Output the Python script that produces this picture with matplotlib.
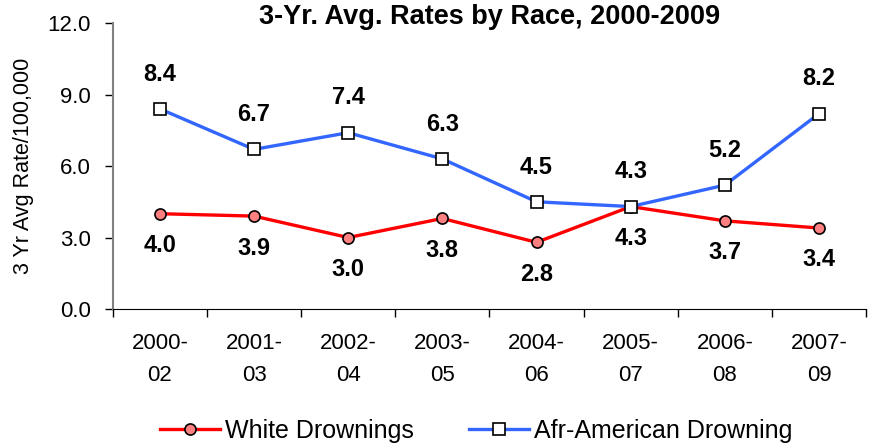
import numpy as np
import matplotlib
matplotlib.use("Agg")
import matplotlib.pyplot as plt

plt.rcParams['font.family'] = ['Liberation Sans', 'DejaVu Sans']

periods = ['2000-\n02', '2001-\n03', '2002-\n04', '2003-\n05',
           '2004-\n06', '2005-\n07', '2006-\n08', '2007-\n09']
white = [4.0, 3.9, 3.0, 3.8, 2.8, 4.3, 3.7, 3.4]
afr_am = [8.4, 6.7, 7.4, 6.3, 4.5, 4.3, 5.2, 8.2]

fig = plt.figure(figsize=(8.74, 4.44), dpi=100)
ax = fig.add_axes([0.129, 0.304, 0.862, 0.644])

x = np.arange(len(periods))
ax.plot(x, white, color='#ff0000', lw=2.4, marker='o', ms=8,
        mfc='#ff8080', mec='black', mew=1.2, label='White Drownings', zorder=3)
ax.plot(x, afr_am, color='#3366ff', lw=2.4, marker='s', ms=8,
        mfc='white', mec='black', mew=1.2, label='Afr-American Drowning', zorder=3)

for xi, v in zip(x, white):
    ax.annotate(f'{v:.1f}', (xi, v), xytext=(0, -23), textcoords='offset points',
                ha='center', va='center', fontsize=17, fontweight='bold')
for xi, v in zip(x, afr_am):
    ax.annotate(f'{v:.1f}', (xi, v), xytext=(0, 25), textcoords='offset points',
                ha='center', va='center', fontsize=17, fontweight='bold')

ax.set_ylim(0, 12)
ax.set_yticks([0, 3, 6, 9, 12])
ax.set_yticklabels(['0.0', '3.0', '6.0', '9.0', '12.0'], fontsize=16)
ax.set_xlim(-0.5, 7.5)
ax.set_xticks(x)
ax.set_xticklabels(periods, fontsize=16, linespacing=1.7)
ax.set_xticks(np.arange(-0.5, 8, 1), minor=True)
ax.tick_params(axis='x', which='major', length=0, pad=17)
ax.tick_params(axis='x', which='minor', length=6, width=1)
ax.tick_params(axis='y', length=6, width=1, color='black', pad=10)

ax.spines['top'].set_visible(False)
ax.spines['right'].set_visible(False)
ax.spines['left'].set_color('#808080')
ax.spines['left'].set_linewidth(1.5)

ax.set_ylabel('3 Yr Avg Rate/100,000', fontsize=15.5)
ax.yaxis.set_label_coords(-0.105, 0.5)
ax.text(0.5, 1.02, '3-Yr. Avg. Rates by Race, 2000-2009', transform=ax.transAxes,
        ha='center', va='center', fontsize=19.5, fontweight='bold')

fig.legend(loc='center', bbox_to_anchor=(0.545, 0.03), ncol=2, frameon=False,
           fontsize=18, handlelength=2.4, handletextpad=0.2, columnspacing=2.2)

fig.savefig('out.png', dpi=100)
